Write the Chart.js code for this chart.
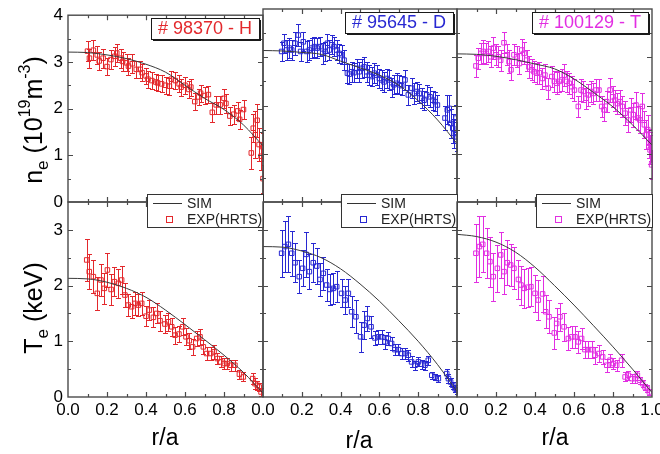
<!DOCTYPE html>
<html><head><meta charset="utf-8">
<script src="https://cdn.jsdelivr.net/npm/chart.js@4/dist/chart.umd.min.js"></script>
<style>
html,body{margin:0;padding:0;background:#fff;width:660px;height:454px;overflow:hidden;position:relative;font-family:"Liberation Sans",Arial,sans-serif;}
canvas{position:absolute;left:0;top:0;}
.lab{position:absolute;white-space:nowrap;color:#000;font-size:25px;line-height:26px;transform:translate(-50%,-50%);}
.rot{transform:translate(-50%,-50%) rotate(-90deg);}
.sub{font-size:17px;position:relative;top:6px;}
.sup{font-size:16px;position:relative;top:-12px;}
</style></head><body>
<canvas id="c0" width="700" height="480"></canvas>
<canvas id="c1" width="700" height="480"></canvas>
<canvas id="c2" width="700" height="480"></canvas>
<canvas id="c3" width="700" height="480"></canvas>
<canvas id="c4" width="700" height="480"></canvas>
<canvas id="c5" width="700" height="480"></canvas>
<div class="lab rot" style="left:35px;top:120px">n<span class="sub">e</span> (10<span class="sup">19</span>m<span class="sup">-3</span>)</div>
<div class="lab rot" style="left:35px;top:308px">T<span class="sub">e</span> (keV)</div>
<div class="lab" style="left:165px;top:437px;font-size:23px">r/a</div>
<div class="lab" style="left:359px;top:440px;font-size:23px">r/a</div>
<div class="lab" style="left:555px;top:437px;font-size:23px">r/a</div>
<script>
// ---------------- data ----------------
const panelTitles = ['# 98370 - H', '# 95645 - D', '# 100129 - T'];
const xTickLabels = ['0.0','0.2','0.4','0.6','0.8','1.0'];
const simR = [0,0.1,0.2,0.3,0.4,0.5,0.6,0.7,0.8,0.9,1.0];

// n_e, H
const hNeR = [0.10,0.11,0.13,0.15,0.16,0.18,0.20,0.22,0.24,0.25,0.27,0.28,0.30,0.31,0.33,0.35,0.37,0.38,0.40,0.41,0.43,0.45,0.46,0.48,0.50,0.52,0.53,0.55,0.57,0.58,0.60,0.62,0.63,0.65,0.67,0.68,0.70,0.72,0.74,0.76,0.78,0.80,0.81,0.83,0.85,0.87,0.88,0.90,0.94,0.95,0.96,0.97,0.98,0.99,1.00,1.00];
const hNeV = [3.23,3.08,3.25,3.15,3.02,3.08,2.90,3.05,3.12,3.19,3.08,3.01,2.98,2.91,2.96,2.84,2.84,2.77,2.70,2.63,2.60,2.57,2.55,2.53,2.50,2.48,2.63,2.60,2.53,2.46,2.50,2.41,2.46,2.15,2.25,2.33,2.28,2.30,1.92,2.08,2.08,2.22,2.11,1.84,1.88,1.95,1.77,1.98,1.05,1.58,1.44,1.75,1.23,0.98,1.18,0.50];
const hNeErr = [0.22,0.20,0.22,0.20,0.20,0.20,0.18,0.20,0.20,0.20,0.20,0.20,0.18,0.18,0.20,0.18,0.18,0.18,0.18,0.18,0.18,0.18,0.18,0.18,0.18,0.18,0.18,0.18,0.18,0.18,0.18,0.18,0.18,0.18,0.18,0.18,0.18,0.18,0.20,0.20,0.20,0.20,0.20,0.20,0.20,0.20,0.20,0.20,0.35,0.30,0.50,0.35,0.35,0.30,0.30,0.30];
const hNeSim = [3.21,3.20,3.15,3.07,2.95,2.78,2.50,2.22,1.98,1.65,1.20];

// n_e, D
const dNeR = [0.096,0.108,0.122,0.136,0.148,0.165,0.182,0.194,0.208,0.225,0.239,0.251,0.265,0.280,0.294,0.308,0.320,0.332,0.342,0.354,0.366,0.380,0.393,0.405,0.418,0.435,0.445,0.457,0.469,0.483,0.497,0.509,0.521,0.535,0.548,0.560,0.574,0.586,0.600,0.612,0.624,0.638,0.651,0.663,0.675,0.689,0.703,0.715,0.732,0.749,0.766,0.780,0.792,0.806,0.818,0.830,0.844,0.861,0.875,0.887,0.899,0.938,0.950,0.960,0.967,0.978,0.985,0.995,1.000];
const dNeV = [3.12,3.29,3.15,3.19,3.15,3.29,3.46,3.12,3.32,3.12,3.15,3.19,3.22,3.19,3.22,3.08,3.12,3.29,3.15,3.26,3.22,3.15,3.08,3.05,2.94,2.67,2.65,2.70,2.68,2.77,2.70,2.77,2.80,2.70,2.63,2.60,2.67,2.63,2.56,2.53,2.49,2.56,2.53,2.38,2.43,2.46,2.43,2.41,2.53,2.22,2.36,2.25,2.29,2.25,2.15,2.11,2.22,2.18,2.11,2.08,2.01,1.74,1.91,1.94,1.63,1.53,1.42,1.74,1.35];
const dNeErr = [0.20,0.20,0.21,0.20,0.20,0.24,0.22,0.20,0.20,0.21,0.20,0.20,0.21,0.20,0.20,0.21,0.20,0.20,0.21,0.20,0.20,0.21,0.20,0.20,0.21,0.20,0.20,0.21,0.20,0.20,0.21,0.20,0.20,0.21,0.20,0.20,0.21,0.20,0.20,0.21,0.20,0.20,0.21,0.20,0.20,0.21,0.20,0.20,0.21,0.20,0.20,0.21,0.20,0.20,0.21,0.20,0.20,0.21,0.20,0.20,0.21,0.25,0.30,0.28,0.30,0.30,0.30,0.28,0.30];
const dNeSim = [3.14,3.13,3.10,3.06,2.92,2.78,2.63,2.42,2.10,1.70,1.21];

// n_e, T
const tNeR = [0.097,0.109,0.123,0.135,0.149,0.161,0.173,0.186,0.200,0.212,0.224,0.241,0.255,0.267,0.277,0.292,0.306,0.320,0.332,0.344,0.357,0.369,0.383,0.395,0.409,0.422,0.438,0.451,0.468,0.486,0.499,0.511,0.525,0.537,0.550,0.562,0.576,0.588,0.602,0.622,0.636,0.648,0.662,0.673,0.686,0.699,0.713,0.728,0.742,0.754,0.768,0.785,0.798,0.810,0.822,0.836,0.848,0.862,0.879,0.891,0.904,0.918,0.927,0.938,0.950,0.961,0.969,0.978,0.985,0.990,0.995,0.998];
const tNeV = [2.82,2.98,3.08,3.12,3.08,3.12,3.01,3.19,3.05,3.01,2.94,3.30,3.05,2.91,2.74,3.05,3.01,2.87,3.15,3.08,2.94,2.80,2.74,2.70,2.67,2.68,2.56,2.63,2.36,2.60,2.50,2.46,2.50,2.53,2.63,2.50,2.46,2.39,2.32,1.98,2.32,2.29,2.15,2.22,2.29,2.25,2.32,2.32,1.98,1.91,2.08,2.32,2.18,2.11,2.04,2.08,1.98,1.84,1.70,1.91,1.81,2.01,1.74,1.70,1.98,1.60,1.39,1.50,1.22,1.08,1.15,0.77];
const tNeErr = [0.22,0.22,0.22,0.23,0.22,0.22,0.22,0.23,0.22,0.22,0.22,0.22,0.22,0.23,0.22,0.22,0.22,0.22,0.22,0.23,0.22,0.22,0.22,0.22,0.22,0.23,0.22,0.22,0.22,0.22,0.22,0.23,0.22,0.22,0.22,0.22,0.22,0.23,0.22,0.22,0.22,0.22,0.22,0.23,0.22,0.22,0.22,0.22,0.22,0.23,0.22,0.25,0.22,0.22,0.22,0.25,0.22,0.25,0.25,0.25,0.25,0.28,0.25,0.28,0.28,0.28,0.30,0.30,0.30,0.30,0.30,0.30];
const tNeSim = [3.07,3.06,3.02,2.95,2.86,2.76,2.55,2.27,1.97,1.60,1.18];

// T_e, H
const hTeR = [0.096,0.109,0.130,0.150,0.169,0.186,0.202,0.221,0.238,0.258,0.275,0.292,0.309,0.326,0.344,0.361,0.378,0.400,0.417,0.438,0.455,0.472,0.497,0.515,0.532,0.549,0.569,0.588,0.605,0.622,0.639,0.660,0.677,0.694,0.711,0.732,0.749,0.766,0.783,0.800,0.817,0.834,0.856,0.879,0.899,0.947,0.959,0.971,0.981,0.990];
const hTeV = [2.46,2.25,2.16,1.86,2.10,1.95,2.28,1.93,2.07,2.04,2.10,1.83,1.65,1.62,1.68,1.65,1.68,1.45,1.56,1.43,1.50,1.37,1.31,1.35,1.26,1.11,1.13,1.26,1.08,1.01,0.90,1.05,1.08,0.90,0.78,0.78,0.81,0.69,0.63,0.60,0.60,0.57,0.57,0.41,0.36,0.33,0.24,0.21,0.18,0.09];
const hTeErr = [0.37,0.32,0.30,0.30,0.28,0.28,0.30,0.27,0.26,0.26,0.26,0.22,0.20,0.20,0.20,0.20,0.20,0.18,0.18,0.18,0.18,0.18,0.16,0.16,0.16,0.15,0.15,0.15,0.15,0.14,0.14,0.14,0.14,0.12,0.12,0.12,0.12,0.10,0.10,0.10,0.10,0.10,0.10,0.08,0.08,0.10,0.10,0.08,0.08,0.08];
const hTeSim = [2.13,2.12,2.06,1.95,1.79,1.56,1.30,1.03,0.75,0.44,0.07];

// T_e, D
const dTeR = [0.096,0.113,0.131,0.148,0.165,0.187,0.204,0.222,0.239,0.259,0.277,0.294,0.311,0.328,0.345,0.363,0.380,0.405,0.423,0.440,0.457,0.479,0.503,0.521,0.538,0.557,0.577,0.595,0.612,0.629,0.646,0.663,0.680,0.698,0.715,0.732,0.749,0.766,0.784,0.801,0.818,0.835,0.852,0.870,0.887,0.904,0.947,0.956,0.967,0.978,0.990,0.998];
const dTeV = [2.58,2.70,2.74,2.58,2.41,2.16,2.31,2.56,2.25,2.41,2.35,2.11,2.22,2.01,1.93,1.95,1.98,1.86,1.74,1.86,1.53,1.44,1.08,1.29,1.41,1.26,1.06,1.08,1.08,0.99,1.05,0.96,0.85,0.85,0.78,0.78,0.75,0.63,0.57,0.63,0.59,0.57,0.66,0.39,0.36,0.33,0.42,0.33,0.27,0.21,0.15,0.12];
const dTeErr = [0.42,0.45,0.50,0.40,0.35,0.30,0.32,0.40,0.32,0.35,0.32,0.30,0.30,0.28,0.28,0.28,0.28,0.25,0.25,0.25,0.28,0.30,0.27,0.25,0.22,0.20,0.12,0.12,0.12,0.12,0.12,0.12,0.10,0.10,0.10,0.10,0.10,0.10,0.08,0.08,0.08,0.08,0.08,0.06,0.06,0.06,0.08,0.08,0.08,0.06,0.06,0.06];
const dTeSim = [2.70,2.69,2.62,2.50,2.30,2.03,1.72,1.37,1.00,0.58,0.10];

// T_e, T
const tTeR = [0.097,0.115,0.132,0.152,0.169,0.186,0.207,0.224,0.241,0.258,0.275,0.292,0.315,0.328,0.345,0.362,0.379,0.400,0.417,0.439,0.455,0.472,0.499,0.511,0.528,0.549,0.571,0.588,0.605,0.622,0.639,0.656,0.674,0.691,0.708,0.728,0.747,0.768,0.785,0.802,0.819,0.844,0.862,0.879,0.896,0.913,0.925,0.938,0.952,0.964,0.976,0.986];
const tTeV = [2.58,2.70,2.74,2.58,2.43,2.16,2.31,2.55,2.25,2.41,2.37,2.31,2.11,2.01,1.95,1.97,1.98,1.86,1.74,1.85,1.53,1.44,1.15,1.32,1.44,1.26,1.05,1.08,1.08,0.99,1.05,0.85,0.85,0.85,0.75,0.78,0.72,0.57,0.66,0.60,0.57,0.66,0.36,0.39,0.33,0.33,0.39,0.30,0.24,0.18,0.15,0.09];
const tTeErr = [0.52,0.55,0.50,0.45,0.45,0.43,0.42,0.42,0.40,0.40,0.38,0.38,0.35,0.35,0.35,0.35,0.35,0.33,0.36,0.33,0.30,0.30,0.28,0.28,0.25,0.25,0.20,0.20,0.20,0.20,0.18,0.15,0.15,0.15,0.15,0.15,0.12,0.12,0.12,0.10,0.10,0.12,0.08,0.08,0.08,0.08,0.08,0.06,0.06,0.06,0.06,0.06];
const tTeSim = [2.92,2.88,2.78,2.60,2.33,2.00,1.65,1.28,0.90,0.50,0.08];

// ---------------- layout / style ----------------
const FONT = '"Liberation Sans", Arial, sans-serif';
const COLORS = ['#e3282c', '#2828d2', '#e22ee2'];
const PX = [68, 263, 457, 652];
const PY = [9, 202, 397];
const CW = 700, CH = 480, YAXIS_W = 30, XAXIS_H = 24;

Chart.defaults.font.family = FONT;

const panelDecor = {
  id: 'panelDecor',
  beforeDatasetsDraw(chart) {
    const {ctx, chartArea: a, scales: {x, y}} = chart;
    ctx.save();
    ctx.beginPath();
    ctx.rect(a.left, a.top - 1, a.right - a.left + 1, a.bottom - a.top + 2);
    ctx.clip();
    chart.data.datasets.forEach(ds => {
      if (!ds.errors) return;
      ctx.strokeStyle = ds.borderColor;
      ctx.lineWidth = 1;
      ds.data.forEach((p, i) => {
        const e = ds.errors[i];
        const px = Math.round(x.getPixelForValue(p.x)) + 0.5;
        const y1 = Math.round(y.getPixelForValue(p.y - e)) + 0.5;
        const y2 = Math.round(y.getPixelForValue(p.y + e)) + 0.5;
        ctx.beginPath();
        ctx.moveTo(px, y1); ctx.lineTo(px, y2);
        ctx.moveTo(px - 2.5, y1); ctx.lineTo(px + 2.5, y1);
        ctx.moveTo(px - 2.5, y2); ctx.lineTo(px + 2.5, y2);
        ctx.stroke();
      });
    });
    ctx.restore();
  },
  afterDraw(chart, args, opts) {
    const {ctx, chartArea: a, scales: {x, y}} = chart;
    ctx.save();
    ctx.strokeStyle = '#4a4a4a';
    ctx.lineWidth = 1.2;
    ctx.beginPath();
    for (let i = 1; i < 10; i++) {
      const px = Math.round(x.getPixelForValue(i / 10)) + 0.5;
      const len = i % 2 === 0 ? 5 : 3;
      ctx.moveTo(px, a.bottom); ctx.lineTo(px, a.bottom - len);
      ctx.moveTo(px, a.top); ctx.lineTo(px, a.top + len);
    }
    for (let k = 1; k * 0.5 < y.max - 1e-6; k++) {
      const py = Math.round(y.getPixelForValue(k * 0.5)) + 0.5;
      const len = k % 2 === 0 ? 5 : 3;
      ctx.moveTo(a.left, py); ctx.lineTo(a.left + len, py);
      ctx.moveTo(a.right, py); ctx.lineTo(a.right - len, py);
    }
    ctx.stroke();
    ctx.lineWidth = 1.4;
    ctx.strokeRect(a.left, a.top, a.right - a.left, a.bottom - a.top);

    if (opts.title) {
      ctx.font = '18px ' + FONT;
      const tw = ctx.measureText(opts.title).width;
      const bw = Math.round(tw + 14), bh = 21;
      const bx = Math.round(a.right - 4 - bw), by = Math.round(a.top + 3);
      ctx.fillStyle = '#1a1a1a';
      ctx.fillRect(bx + 2, by + 2, bw, bh);
      ctx.fillStyle = '#fff';
      ctx.fillRect(bx, by, bw, bh);
      ctx.lineWidth = 1;
      ctx.strokeStyle = '#1a1a1a';
      ctx.strokeRect(bx + 0.5, by + 0.5, bw, bh);
      ctx.fillStyle = opts.color;
      ctx.textBaseline = 'middle';
      ctx.textAlign = 'left';
      ctx.fillText(opts.title, bx + 7, by + bh / 2 + 1);
    }
    if (opts.legend) {
      const bw = 116, bh = 33;
      const bx = Math.round(a.right - bw), by = Math.round(a.top - 8);
      ctx.fillStyle = '#fff';
      ctx.fillRect(bx, by, bw, bh);
      ctx.lineWidth = 1;
      ctx.strokeStyle = '#333';
      ctx.strokeRect(bx + 0.5, by + 0.5, bw, bh);
      ctx.beginPath();
      ctx.moveTo(bx + 6, by + 9.5); ctx.lineTo(bx + 35, by + 9.5);
      ctx.stroke();
      ctx.strokeStyle = opts.color;
      ctx.strokeRect(bx + 19.5, by + 22.5, 6, 6);
      ctx.fillStyle = '#222';
      ctx.font = '14px ' + FONT;
      ctx.textBaseline = 'middle';
      ctx.textAlign = 'left';
      ctx.fillText('SIM', bx + 40, by + 10);
      ctx.fillText('EXP(HRTS)', bx + 40, by + 26);
    }
    ctx.restore();
  }
};

function padFor(col, row) {
  return {
    left: col === 0 ? PX[0] - YAXIS_W : PX[col],
    right: CW - PX[col + 1],
    top: PY[row],
    bottom: row === 1 ? CH - PY[2] - XAXIS_H : CH - PY[1]
  };
}

function makePanel(id, col, row, r, v, err, sim, ymax, yLabels) {
  const color = COLORS[col];
  const showX = row === 1, showY = col === 0;
  return new Chart(document.getElementById(id), {
    type: 'scatter',
    data: {
      datasets: [
        { label: 'SIM', data: simR.map((xv, i) => ({x: xv, y: sim[i]})), showLine: true,
          borderColor: '#3a3a3a', borderWidth: 1, pointRadius: 0, fill: false,
          cubicInterpolationMode: 'monotone' },
        { label: 'EXP(HRTS)', data: r.map((xv, i) => ({x: xv, y: v[i]})), errors: err,
          pointStyle: 'rect', pointRadius: 3.2, borderWidth: 1,
          borderColor: color, backgroundColor: 'rgba(255,255,255,0)' }
      ]
    },
    options: {
      responsive: false, animation: false, devicePixelRatio: 1,
      layout: { padding: padFor(col, row), autoPadding: false },
      events: [],
      plugins: {
        legend: { display: false }, tooltip: { enabled: false },
        panelDecor: row === 0 ? { title: panelTitles[col], color } : { legend: true, color }
      },
      scales: {
        x: {
          type: 'linear', min: 0, max: 1, display: showX,
          grid: { display: false, drawTicks: false }, border: { display: false },
          ticks: {
            stepSize: 0.2, autoSkip: false, maxRotation: 0, padding: 3,
            color: '#000', font: { size: 17, family: FONT },
            callback: (val) => {
              const idx = Math.round(val / 0.2);
              if (idx === 5 && col < 2) return '';
              return xTickLabels[idx];
            }
          },
          afterFit: (s) => { s.height = showX ? XAXIS_H : 0; }
        },
        y: {
          type: 'linear', min: 0, max: ymax, display: showY,
          grid: { display: false, drawTicks: false }, border: { display: false },
          ticks: {
            stepSize: 1, includeBounds: false, autoSkip: false, padding: 5,
            color: '#000', font: { size: 17, family: FONT },
            callback: (val) => yLabels.includes(val) ? String(val) : ''
          },
          afterFit: (s) => { s.width = showY ? YAXIS_W : 0; }
        }
      }
    },
    plugins: [panelDecor]
  });
}

const neTicks = [0, 1, 2, 3, 4];
const teTicks = [0, 1, 2, 3];
makePanel('c0', 0, 0, hNeR, hNeV, hNeErr, hNeSim, 4, neTicks);
makePanel('c1', 1, 0, dNeR, dNeV, dNeErr, dNeSim, 4, neTicks);
makePanel('c2', 2, 0, tNeR, tNeV, tNeErr, tNeSim, 4, neTicks);
makePanel('c3', 0, 1, hTeR, hTeV, hTeErr, hTeSim, 3.5, teTicks);
makePanel('c4', 1, 1, dTeR, dTeV, dTeErr, dTeSim, 3.5, teTicks);
makePanel('c5', 2, 1, tTeR, tTeV, tTeErr, tTeSim, 3.5, teTicks);
</script>
</body></html>
